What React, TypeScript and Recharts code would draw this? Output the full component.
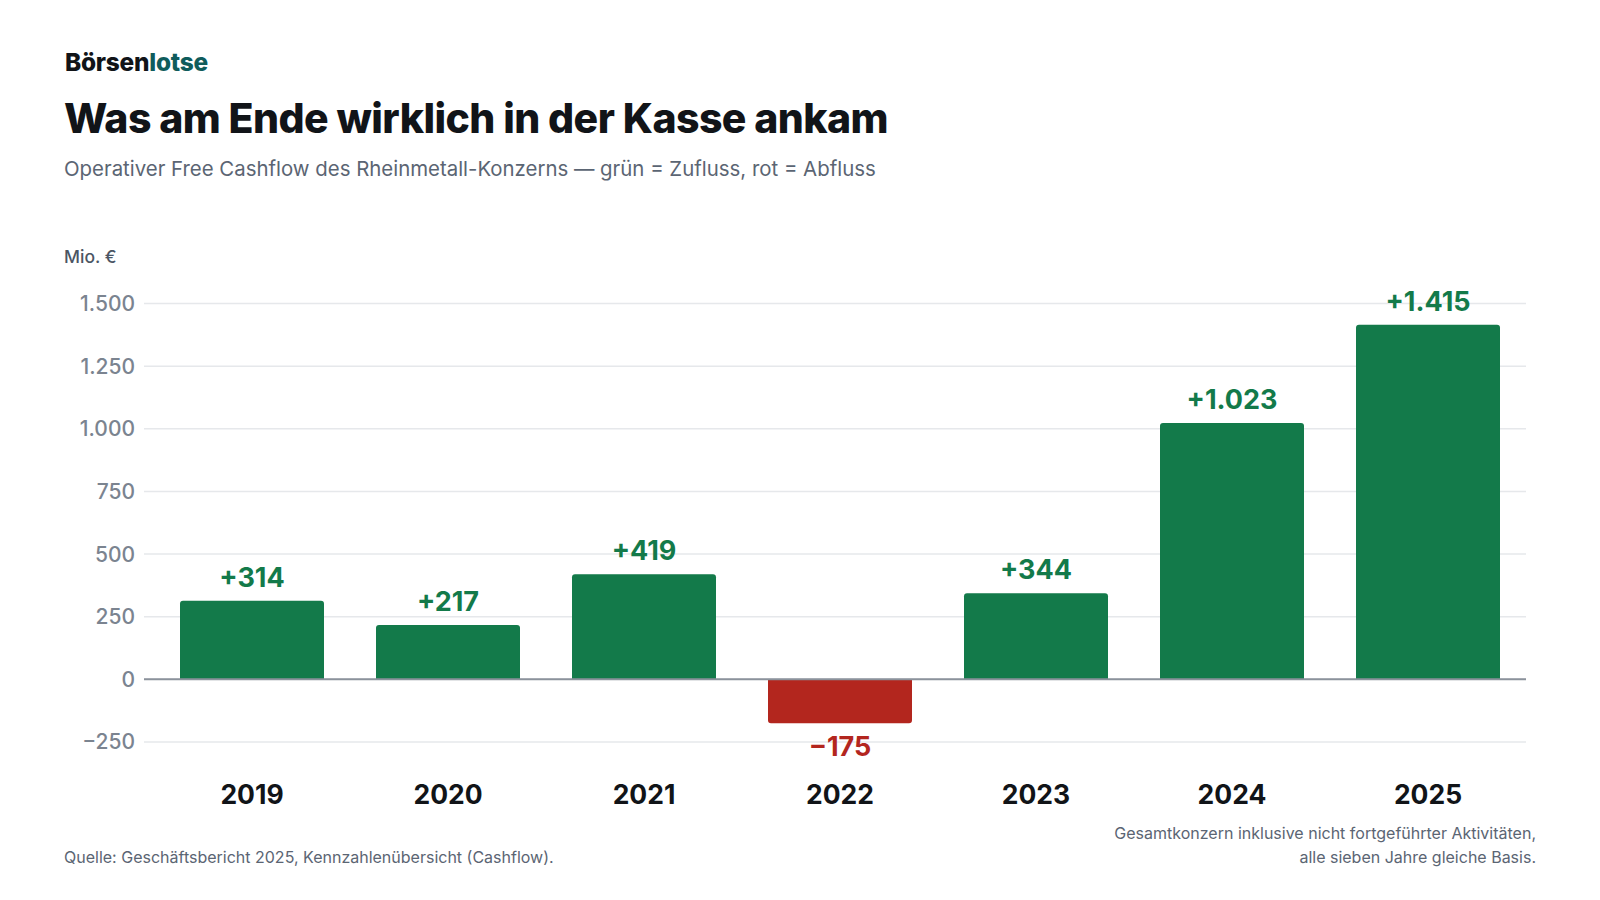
import React from 'react'
import { BarChart, Bar, XAxis, YAxis, CartesianGrid, ReferenceLine, LabelList, Cell } from 'recharts'

const years = ['2019', '2020', '2021', '2022', '2023', '2024', '2025']
const cashflow = [314, 217, 419, -175, 344, 1023, 1415]
const yTicks = [-250, 0, 250, 500, 750, 1000, 1250, 1500]

const data = years.map((year, i) => ({ year, value: cashflow[i] }))

const GREEN = '#137a4a'
const RED = '#b3261e'
const FONT = 'Inter, "Noto Sans", sans-serif'

const fmt = (v: number) => {
  const s = Math.abs(v).toString().replace(/\B(?=(\d{3})+(?!\d))/g, '.')
  return v < 0 ? `\u2212${s}` : s
}

const ValueLabel = (props: any) => {
  const { x, y, width, height, value } = props
  const top = Math.min(y, y + height)
  const bottom = Math.max(y, y + height)
  const neg = value < 0
  return (
    <text
      x={x + width / 2}
      y={neg ? bottom + 33 : top - 14}
      textAnchor="middle"
      fill={neg ? RED : GREEN}
      fontSize={27}
      fontWeight={700}
      fontFamily={FONT}
    >
      {neg ? fmt(value) : `+${fmt(value)}`}
    </text>
  )
}

export default function App() {
  return (
    <div style={{ position: 'relative', width: 1600, height: 900, background: '#fff', fontFamily: FONT }}>
      <style>{'body{margin:0}'}</style>
      <div style={{ position: 'absolute', left: 65, top: 50, fontSize: 24.4, lineHeight: 1, fontWeight: 800, letterSpacing: '-0.01em', color: '#111418' }}>
        Börsen<span style={{ color: '#0f5c5c' }}>lotse</span>
      </div>
      <div style={{ position: 'absolute', left: 64, top: 98, fontSize: 41, lineHeight: 1, fontWeight: 800, letterSpacing: '-0.014em', color: '#111418' }}>
        Was am Ende wirklich in der Kasse ankam
      </div>
      <div style={{ position: 'absolute', left: 64, top: 159, fontSize: 20.4, lineHeight: 1, color: '#5b6573' }}>
        Operativer Free Cashflow des Rheinmetall-Konzerns — grün = Zufluss, rot = Abfluss
      </div>
      <div style={{ position: 'absolute', left: 64, top: 248, fontSize: 17.5, lineHeight: 1, fontWeight: 500, color: '#4b5563' }}>
        Mio. €
      </div>

      <div style={{ position: 'absolute', left: 0, top: 230 }}>
        <BarChart width={1600} height={600} data={data} margin={{ top: 73.5, right: 74, bottom: 28, left: 0 }}>
          <CartesianGrid vertical={false} stroke="#e6e8eb" strokeWidth={1.5} />
          <XAxis
            dataKey="year"
            axisLine={false}
            tickLine={false}
            tickSize={0}
            tickMargin={43}
            height={60}
            padding={{ left: 10, right: 0 }}
            tick={{ fill: '#111418', fontSize: 26.5, fontWeight: 700, fontFamily: FONT }}
          />
          <YAxis
            width={144}
            domain={[-250, 1500]}
            ticks={yTicks}
            axisLine={false}
            tickLine={false}
            tickSize={0}
            tickMargin={9}
            tickFormatter={fmt}
            tick={{ fill: '#7b8490', fontSize: 21, fontWeight: 500, fontFamily: FONT }}
          />
          <ReferenceLine y={0} stroke="#8b929b" strokeWidth={2} />
          <Bar dataKey="value" barSize={144} radius={[3, 3, 0, 0]} isAnimationActive={false}>
            {data.map((d) => (
              <Cell key={d.year} fill={d.value < 0 ? RED : GREEN} />
            ))}
            <LabelList dataKey="value" content={ValueLabel} />
          </Bar>
        </BarChart>
      </div>

      <div style={{ position: 'absolute', left: 64, top: 849, fontSize: 16, lineHeight: 1, color: '#5b6573' }}>
        Quelle: Geschäftsbericht 2025, Kennzahlenübersicht (Cashflow).
      </div>
      <div style={{ position: 'absolute', right: 64, top: 821, fontSize: 16, lineHeight: '24px', color: '#5b6573', textAlign: 'right' }}>
        Gesamtkonzern inklusive nicht fortgeführter Aktivitäten,
        <br />
        alle sieben Jahre gleiche Basis.
      </div>
    </div>
  )
}
